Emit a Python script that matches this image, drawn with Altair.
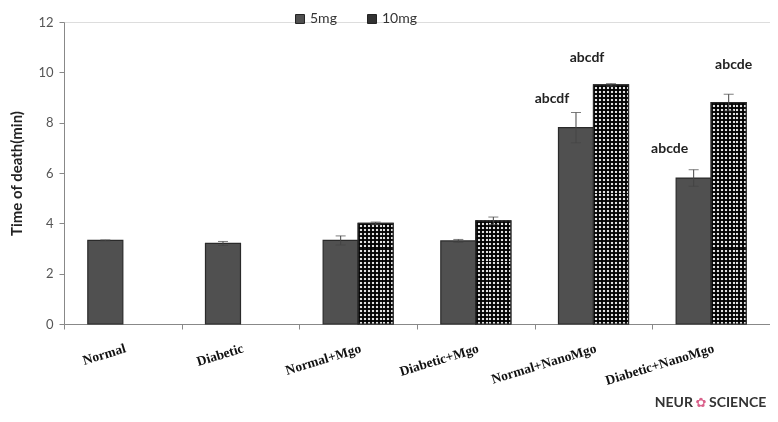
import altair as alt
import pandas as pd

categories = ["Normal", "Diabetic", "Normal+Mgo", "Diabetic+Mgo", "Normal+NanoMgo", "Diabetic+NanoMgo"]
series = ["5mg", "10mg"]
mg5 = [3.32, 3.20, 3.32, 3.30, 7.80, 5.80]
mg5_err = [0.02, 0.08, 0.18, 0.06, 0.60, 0.33]
mg10 = [None, None, 4.00, 4.10, 9.50, 8.80]
mg10_err = [None, None, 0.05, 0.15, 0.05, 0.33]

annot_text = ["abcdf", "abcdf", "abcde", "abcde"]
annot_cat = ["Normal+NanoMgo", "Normal+NanoMgo", "Diabetic+NanoMgo", "Diabetic+NanoMgo"]
annot_series = ["5mg", "10mg", "5mg", "10mg"]
annot_y = [8.96, 10.56, 6.97, 10.28]
annot_shift = ["left", "left", "left", "right"]

rows = []
for c, v, e in zip(categories, mg5, mg5_err):
    rows.append({"cat": c, "series": "5mg", "value": v, "lo": v - e, "hi": v + e})
for c, v, e in zip(categories, mg10, mg10_err):
    if v is not None:
        rows.append({"cat": c, "series": "10mg", "value": v, "lo": v - e, "hi": v + e})
df = pd.DataFrame(rows)

ann = pd.DataFrame({"cat": annot_cat, "series": annot_series, "y": annot_y,
                    "text": annot_text, "shift": annot_shift})

W, H = 706, 302
YMAX = 12

x_enc = alt.X("cat:N", sort=categories, title=None,
              scale=alt.Scale(paddingInner=0, paddingOuter=0),
              axis=alt.Axis(labelAngle=343, labelAlign="right", labelBaseline="top",
                            labelPadding=12, labelFont="Liberation Serif", labelFontWeight="bold",
                            labelFontSize=13.5, labelColor="#111", domainColor="#888",
                            tickColor="#888", tickSize=5, tickBand="extent", labelOverlap=False))
xo_enc = alt.XOffset("series:N", sort=series, scale=alt.Scale(domain=series, paddingInner=0, paddingOuter=0.68))
y_scale = alt.Scale(domain=[0, YMAX], nice=False)

bars = alt.Chart(df).mark_bar(stroke="#2a2a2a", strokeWidth=1.2).encode(
    x=x_enc, xOffset=xo_enc,
    y=alt.Y("value:Q", scale=y_scale, title="Time of  death(min)",
            axis=alt.Axis(values=[0, 2, 4, 6, 8, 10, 12], grid=False, domainColor="#888",
                          tickColor="#888", tickSize=5, labelFont="Lato", labelFontSize=13,
                          labelColor="#555", labelPadding=6, titleFont="Lato", titleFontSize=15,
                          titleFontWeight="bold", titleColor="#222", titlePadding=13)),
    color=alt.Color("series:N", sort=series,
                    scale=alt.Scale(domain=series, range=["#505050", "#333333"]),
                    legend=alt.Legend(title=None, orient="none", legendX=229, legendY=-10,
                                      direction="horizontal", symbolType="square", symbolSize=80,
                                      symbolStrokeColor="#222", symbolStrokeWidth=1,
                                      labelFont="Lato", labelFontSize=14, labelColor="#333",
                                      columnPadding=28, labelOffset=3)),
)


def stripes(n, horizontal):
    st = []
    for i in range(n):
        st.append(alt.GradientStop(offset=i / n, color="#111111"))
        st.append(alt.GradientStop(offset=(i + 0.5) / n, color="#111111"))
        st.append(alt.GradientStop(offset=(i + 0.5) / n, color="#f0f0f0"))
        st.append(alt.GradientStop(offset=(i + 1) / n, color="#f0f0f0"))
    if horizontal:
        return alt.LinearGradient(gradient="linear", x1=0, x2=0, y1=0, y2=1, stops=st)
    return alt.LinearGradient(gradient="linear", x1=0, x2=1, y1=0, y2=0, stops=st)


overlay = alt.Chart(df).transform_filter(alt.datum.series == "10mg").mark_bar(
    color=stripes(9, False)).encode(
    x=alt.X("cat:N", sort=categories), xOffset=xo_enc, y=alt.Y("value:Q", scale=y_scale))

h_layers = []
for c, v in zip(categories, mg10):
    if v is None:
        continue
    n_rows = max(1, round(v / YMAX * H / 4))
    h_layers.append(
        alt.Chart(df).transform_filter((alt.datum.series == "10mg") & (alt.datum.cat == c)).mark_bar(
            color=stripes(n_rows, True), blend="multiply").encode(
            x=alt.X("cat:N", sort=categories), xOffset=xo_enc, y=alt.Y("value:Q", scale=y_scale)))

outline = alt.Chart(df).transform_filter(alt.datum.series == "10mg").mark_bar(
    fillOpacity=0, stroke="#2a2a2a", strokeWidth=1.2).encode(
    x=alt.X("cat:N", sort=categories), xOffset=xo_enc, y=alt.Y("value:Q", scale=y_scale))

err = alt.Chart(df).mark_rule(color="#444", strokeWidth=1).encode(
    x=alt.X("cat:N", sort=categories), xOffset=xo_enc,
    y=alt.Y("lo:Q", scale=y_scale), y2="hi:Q")
cap_hi = alt.Chart(df).mark_tick(color="#444", thickness=1, size=10, orient="horizontal").encode(
    x=alt.X("cat:N", sort=categories), xOffset=xo_enc, y=alt.Y("hi:Q", scale=y_scale))
cap_lo = alt.Chart(df).mark_tick(color="#444", thickness=1, size=10, orient="horizontal").encode(
    x=alt.X("cat:N", sort=categories), xOffset=xo_enc, y=alt.Y("lo:Q", scale=y_scale))


def ann_layer(shift, dx):
    return alt.Chart(ann).transform_filter(alt.datum.shift == shift).mark_text(
        font="Lato", fontWeight="bold", fontSize=14, color="#222", dx=dx, baseline="middle").encode(
        x=alt.X("cat:N", sort=categories), xOffset=xo_enc,
        y=alt.Y("y:Q", scale=y_scale), text="text:N")


logo_df = pd.DataFrame({"a": [0]})
logo1 = alt.Chart(logo_df).mark_text(text="NEUR", font="Lato", fontSize=14, fontWeight="bold",
                                     color="#333", align="right", baseline="middle").encode(
    x=alt.value(629), y=alt.value(381))
logo2 = alt.Chart(logo_df).mark_text(text="✿", font="DejaVu Sans", fontSize=13,
                                     color="#d9608a", align="center", baseline="middle").encode(
    x=alt.value(637), y=alt.value(381))
logo3 = alt.Chart(logo_df).mark_text(text="SCIENCE", font="Lato", fontSize=14, fontWeight="bold",
                                     color="#333", align="left", baseline="middle").encode(
    x=alt.value(645), y=alt.value(381))

chart = alt.layer(bars, overlay, *h_layers, outline, err, cap_hi, cap_lo,
                  ann_layer("left", -24), ann_layer("right", 5),
                  logo1, logo2, logo3).properties(
    width=W, height=H,
    autosize=alt.AutoSizeParams(type="none"),
    padding={"left": 56, "top": 14, "right": 0, "bottom": 90},
).configure_view(stroke=None).configure(background="white")

chart.save("out.html", embed_options={"renderer": "svg", "actions": False})
